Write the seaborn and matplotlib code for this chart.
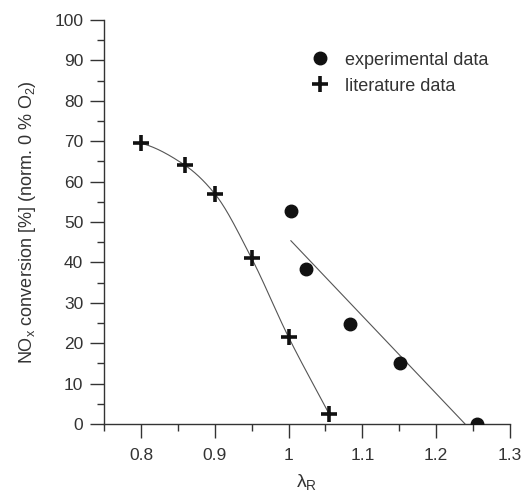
import numpy as np
import pandas as pd
import matplotlib
matplotlib.use("Agg")
import matplotlib.pyplot as plt
import seaborn as sns

# data
lam_exp = [1.003, 1.023, 1.083, 1.151, 1.255]
nox_exp = [52.7, 38.4, 24.7, 15.1, 0.0]

lam_lit = [0.80, 0.86, 0.90, 0.95, 1.00, 1.055]
nox_lit = [69.5, 64.0, 57.0, 41.0, 21.5, 2.5]


def pchip(x, y, xn):
    # monotone cubic through the points (smooth connecting curve)
    x = np.asarray(x, float)
    y = np.asarray(y, float)
    h = np.diff(x)
    dl = np.diff(y) / h
    m = np.zeros_like(y)
    for i in range(1, len(x) - 1):
        if dl[i - 1] * dl[i] > 0:
            w1 = 2 * h[i] + h[i - 1]
            w2 = h[i] + 2 * h[i - 1]
            m[i] = (w1 + w2) / (w1 / dl[i - 1] + w2 / dl[i])
    m[0] = dl[0] * 0.5
    m[-1] = dl[-1]
    idx = np.clip(np.searchsorted(x, xn) - 1, 0, len(x) - 2)
    t = (xn - x[idx]) / h[idx]
    h00 = 2 * t**3 - 3 * t**2 + 1
    h10 = t**3 - 2 * t**2 + t
    h01 = -2 * t**3 + 3 * t**2
    h11 = t**3 - t**2
    return h00 * y[idx] + h10 * h[idx] * m[idx] + h01 * y[idx + 1] + h11 * h[idx] * m[idx + 1]


sns.set_style("ticks")
plt.rcParams['font.family'] = ['Liberation Sans', 'DejaVu Sans']
plt.rcParams['mathtext.fontset'] = 'custom'
plt.rcParams['mathtext.rm'] = 'Liberation Sans'
plt.rcParams['mathtext.it'] = 'Liberation Sans'

fig = plt.figure(figsize=(5.23, 4.94), dpi=100)
ax = fig.add_axes([0.199, 0.1417, 0.776, 0.8178])

# linear fit through experimental data
k, d = np.polyfit(lam_exp, nox_exp, 1)
xf = np.linspace(lam_exp[0], -d / k, 50)
sns.lineplot(x=xf, y=k * xf + d, ax=ax, color="#555555", lw=0.8)

# smooth curve through literature data
xl = np.linspace(lam_lit[0], lam_lit[-1], 200)
sns.lineplot(x=xl, y=pchip(lam_lit, nox_lit, xl), ax=ax, color="#555555", lw=0.8)

ax.plot(lam_exp, nox_exp, 'o', color="#111111", ms=9, label="experimental data", zorder=5)
ax.plot(lam_lit, nox_lit, '+', color="#111111", ms=11, mew=2.6, label="literature data", zorder=5)

ax.set_xlim(0.75, 1.3)
ax.set_ylim(0, 100)
ax.set_xticks([0.8, 0.9, 1.0, 1.1, 1.2, 1.3])
ax.set_xticklabels(["0.8", "0.9", "1", "1.1", "1.2", "1.3"])
ax.set_xticks(np.arange(0.75, 1.31, 0.05), minor=True)
ax.set_yticks(range(0, 101, 10))
ax.set_yticks(range(0, 101, 5), minor=True)
ax.tick_params(which='major', length=10, width=1, colors="#333333", labelsize=12.5, labelcolor="#333333", pad=5)
ax.tick_params(which='minor', length=5, width=1, colors="#333333")
ax.tick_params(axis='x', which='major', pad=7)
sns.despine(ax=ax)
for s in ['left', 'bottom']:
    ax.spines[s].set_color("#333333")
    ax.spines[s].set_linewidth(1)

ax.set_xlabel("λ$_\\mathrm{R}$", fontsize=14, color="#333333", labelpad=7)
ax.set_ylabel("NO$_\\mathrm{x}$ conversion [%] (norm. 0 % O$_\\mathrm{2}$)", fontsize=13, color="#333333", labelpad=12)

leg = ax.legend(loc="upper left", bbox_to_anchor=(0.47, 0.962), frameon=False, fontsize=13,
                handletextpad=0.9, labelspacing=0.5, handlelength=1.0)
for t in leg.get_texts():
    t.set_color("#333333")

fig.savefig("out.png", dpi=100)
